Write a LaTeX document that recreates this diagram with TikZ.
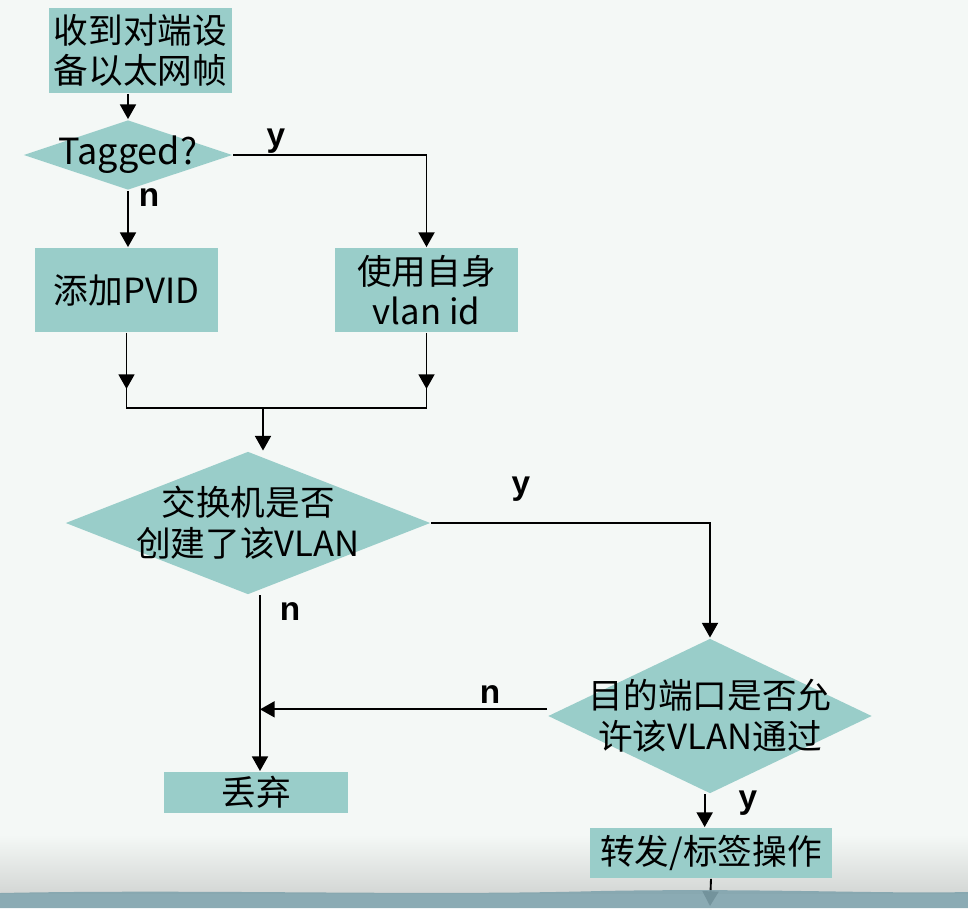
\documentclass[tikz,border=0pt]{standalone}
\usepackage{fontspec}
\setmainfont{Noto Sans CJK SC}
\newfontfamily\ynfont{Liberation Sans}
\usetikzlibrary{shapes.geometric,arrows.meta}

\definecolor{boxteal}{RGB}{153,205,201}
\definecolor{slidebg}{RGB}{244,248,246}
\definecolor{slidegray}{RGB}{212,215,213}
\definecolor{slideband}{RGB}{128,163,173}

\tikzset{every picture/.style={line width=1.4pt}}
\tikzset{
  flowbox/.style={fill=boxteal, inner sep=0.75pt, align=center, font=\fontsize{26}{30}\selectfont},
  flowdiam/.style={diamond, fill=boxteal, inner sep=0pt},
  diamtext/.style={align=center, inner sep=0pt, font=\fontsize{26}{31}\selectfont},
  arr/.style={-{Triangle[length=11pt,width=12pt]}},
  ynlabel/.style={inner sep=0.75pt, font=\ynfont\bfseries\fontsize{25}{25}\selectfont}
}

\begin{document}
\begin{tikzpicture}[x=0.75pt,y=0.75pt,yscale=-1,xscale=1]
\useasboundingbox (0,0) rectangle (968,908);

%Shape: Background
\fill [slidebg] (0,0) rectangle (968,908);
\shade [top color=slidebg, bottom color=slidegray] (0,835) rectangle (968,893);

%Shape: Boxes
\node [flowbox, minimum width=137.3pt, minimum height=63.8pt] (recv) at (140.5,50.5) {收到对端设\\备以太网帧};
\node [flowdiam, minimum width=156.8pt, minimum height=52.5pt, label={[diamtext, font=\fontsize{27}{31}\selectfont]center:Tagged?}] (tagged) at (128,155) {};
\node [flowbox, minimum width=137.3pt, minimum height=63pt] (pvid) at (126.5,290) {添加PVID};
\node [flowbox, minimum width=137.3pt, minimum height=63pt] (self) at (426.5,290) {使用自身\\vlan id};
\node [flowdiam, minimum width=273.8pt, minimum height=107.3pt, label={[diamtext]center:交换机是否\\创建了该VLAN}] (vlan) at (248,523) {};
\node [flowbox, minimum width=138pt, minimum height=30.8pt] (drop) at (256,792.5) {丢弃};
\node [flowdiam, minimum width=243pt, minimum height=116.3pt, label={[diamtext]center:目的端口是否允\\许该VLAN通过}] (allow) at (710,716) {};
\node [flowbox, minimum width=181.5pt, minimum height=37.5pt] (fwd) at (711,853) {转发/标签操作};

\coordinate (merge) at (263,408);
\coordinate (nline) at ([xshift=9pt]vlan.south);
\coordinate (nin) at ([yshift=-5pt]allow.west);
\coordinate (exit) at (710,906);

%Straight Lines
\draw [arr] (tagged.north |- recv.south) -- (tagged.north);
\draw [arr] (tagged.east) -| (self.north);
\draw [arr] (tagged.south) -- (tagged.south |- pvid.north);
\draw (pvid.south) |- (merge) -| (self.south);
\draw [arr] (pvid.south) -- ++(0,56);
\draw [arr] (self.south) -- ++(0,56);
\draw [arr] (merge) -- (merge |- vlan.north);
\draw [arr] (vlan.east) -| (allow.north);
\draw [arr] (nline) -- (nline |- drop.north);
\draw [arr] (nin) -- (nin -| nline);
\draw [arr] ([xshift=-4pt]allow.south) -- ([xshift=-4pt]allow.south |- fwd.north);
\draw [arr] (fwd.south) -- (exit);

%Shape: Bottom band
\fill [slideband, opacity=0.9] (0,893) .. controls (200,889) and (420,896) .. (600,891) .. controls (760,888) and (880,894) .. (968,892) -- (968,908) -- (0,908) -- cycle;

% Text Node
\node [ynlabel] (ytag) at (276,141) {y};
% Text Node
\node [ynlabel] (ntag) at (149,198) {n};
% Text Node
\node [ynlabel] (yvlan) at (521,489) {y};
% Text Node
\node [ynlabel] (nvlan) at (290,612) {n};
% Text Node
\node [ynlabel] (nallow) at (490,695) {n};
% Text Node
\node [ynlabel] (yallow) at (748,803) {y};

\end{tikzpicture}
\end{document}
